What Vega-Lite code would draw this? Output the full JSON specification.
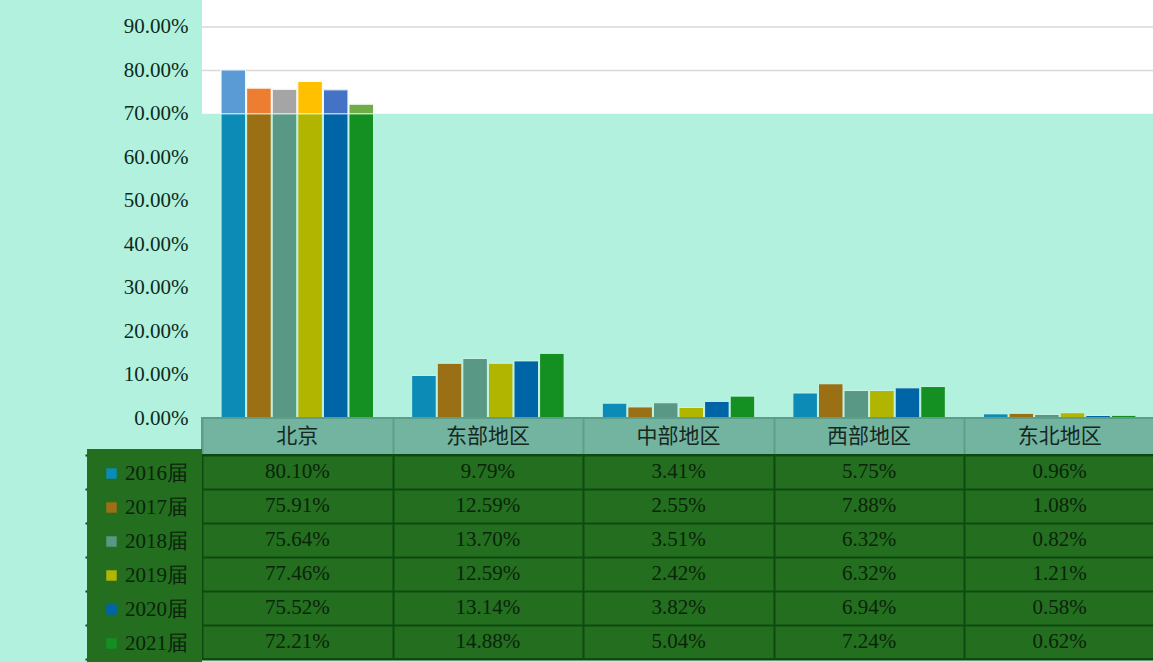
{
  "$schema": "https://vega.github.io/schema/vega-lite/v6.json",
  "background": "#b1f1dd",
  "padding": {"left": 83, "top": 0, "right": 0, "bottom": 0},
  "spacing": 0,
  "bounds": "flush",
  "config": {"view": {"stroke": null}, "font": "Liberation Serif"},
  "datasets": {
    "rows": [
      {"region": "北京", "year": "2016届", "value": 0.8010},
      {"region": "北京", "year": "2017届", "value": 0.7591},
      {"region": "北京", "year": "2018届", "value": 0.7564},
      {"region": "北京", "year": "2019届", "value": 0.7746},
      {"region": "北京", "year": "2020届", "value": 0.7552},
      {"region": "北京", "year": "2021届", "value": 0.7221},
      {"region": "东部地区", "year": "2016届", "value": 0.0979},
      {"region": "东部地区", "year": "2017届", "value": 0.1259},
      {"region": "东部地区", "year": "2018届", "value": 0.1370},
      {"region": "东部地区", "year": "2019届", "value": 0.1259},
      {"region": "东部地区", "year": "2020届", "value": 0.1314},
      {"region": "东部地区", "year": "2021届", "value": 0.1488},
      {"region": "中部地区", "year": "2016届", "value": 0.0341},
      {"region": "中部地区", "year": "2017届", "value": 0.0255},
      {"region": "中部地区", "year": "2018届", "value": 0.0351},
      {"region": "中部地区", "year": "2019届", "value": 0.0242},
      {"region": "中部地区", "year": "2020届", "value": 0.0382},
      {"region": "中部地区", "year": "2021届", "value": 0.0504},
      {"region": "西部地区", "year": "2016届", "value": 0.0575},
      {"region": "西部地区", "year": "2017届", "value": 0.0788},
      {"region": "西部地区", "year": "2018届", "value": 0.0632},
      {"region": "西部地区", "year": "2019届", "value": 0.0632},
      {"region": "西部地区", "year": "2020届", "value": 0.0694},
      {"region": "西部地区", "year": "2021届", "value": 0.0724},
      {"region": "东北地区", "year": "2016届", "value": 0.0096},
      {"region": "东北地区", "year": "2017届", "value": 0.0108},
      {"region": "东北地区", "year": "2018届", "value": 0.0082},
      {"region": "东北地区", "year": "2019届", "value": 0.0121},
      {"region": "东北地区", "year": "2020届", "value": 0.0058},
      {"region": "东北地区", "year": "2021届", "value": 0.0062}
    ],
    "one": [{}]
  },
  "data": {"name": "rows"},
  "vconcat": [
    {
      "width": 953,
      "height": 418,
      "view": {"fill": "#b1f1dd", "stroke": null},
      "layer": [
        {
          "data": {"name": "one"},
          "mark": {"type": "rect", "fill": "#ffffff"},
          "encoding": {
            "y": {"datum": 0.7, "type": "quantitative", "scale": {"domain": [0, 0.962], "nice": false, "zero": true}, "axis": {"values": [0, 0.1, 0.2, 0.3, 0.4, 0.5, 0.6, 0.7, 0.8, 0.9], "format": ".2%", "labelFont": "Liberation Serif", "labelFontSize": 21, "labelColor": "#0d2a1c", "labelPadding": 14, "ticks": false, "domain": false, "gridColor": "#8ccab5", "gridWidth": 1.5, "title": null}},
            "y2": {"datum": 0.962}
          }
        },
        {
          "data": {"name": "one"},
          "mark": {"type": "rule", "color": "#d9d9d9", "strokeWidth": 1.5},
          "encoding": {"y": {"datum": 0.8, "type": "quantitative"}}
        },
        {
          "data": {"name": "one"},
          "mark": {"type": "rule", "color": "#d9d9d9", "strokeWidth": 1.5},
          "encoding": {"y": {"datum": 0.9, "type": "quantitative"}}
        },
        {
          "mark": {"type": "bar", "stroke": "#c6f5e6", "strokeWidth": 1},
          "encoding": {
            "x": {"field": "region", "type": "nominal", "sort": ["北京", "东部地区", "中部地区", "西部地区", "东北地区"], "axis": null, "scale": {"paddingInner": 0.2, "paddingOuter": 0.1}},
            "xOffset": {"field": "year", "type": "nominal", "scale": {"paddingInner": 0.04}},
            "y": {"field": "value", "type": "quantitative"},
            "color": {"field": "year", "type": "nominal", "scale": {"range": ["#0b8bb5", "#9b6f14", "#589884", "#b2b500", "#0065a6", "#148f22"]},
              "legend": {"orient": "none", "legendX": -115, "legendY": 449, "padding": 14, "fillColor": "#236e1f", "zindex": -1, "title": null, "symbolType": "square", "symbolSize": 110, "symbolStrokeWidth": 0, "labelFont": "Liberation Serif", "labelFontSize": 21, "labelColor": "#0a240a", "rowPadding": 12, "labelOffset": 3}}
          }
        },
        {
          "transform": [{"filter": "datum.value > 0.7"}],
          "mark": {"type": "bar", "stroke": "#ffffff", "strokeWidth": 1},
          "encoding": {
            "x": {"field": "region", "type": "nominal", "sort": ["北京", "东部地区", "中部地区", "西部地区", "东北地区"]},
            "xOffset": {"field": "year", "type": "nominal"},
            "y": {"field": "value", "type": "quantitative"},
            "y2": {"datum": 0.7},
            "fill": {"field": "year", "type": "nominal", "scale": {"range": ["#5b9bd5", "#ed7d31", "#a5a5a5", "#ffc000", "#4472c4", "#70ad47"]}, "legend": null}
          }
        }
      ]
    },
    {
      "width": 953,
      "height": 37,
      "view": {"fill": "#72b4a0", "stroke": "#5c9e89", "strokeWidth": 2},
      "mark": {"type": "text", "font": "Noto Sans CJK SC", "fontSize": 21, "color": "#15281f"},
      "encoding": {
        "x": {"field": "region", "type": "nominal", "sort": ["北京", "东部地区", "中部地区", "西部地区", "东北地区"], "scale": {"paddingInner": 0, "paddingOuter": 0}, "axis": {"orient": "top", "labels": false, "ticks": false, "domain": false, "grid": true, "tickBand": "extent", "gridColor": "#5c9e89", "gridWidth": 2, "title": null}},
        "text": {"field": "region"}
      },
      "transform": [{"aggregate": [], "groupby": ["region"]}]
    },
    {
      "width": 953,
      "height": 204,
      "view": {"fill": "#236e1f", "stroke": "#0e4a10", "strokeWidth": 2},
      "mark": {"type": "text", "font": "Liberation Serif", "fontSize": 21, "color": "#0a240a"},
      "encoding": {
        "x": {"field": "region", "type": "nominal", "sort": ["北京", "东部地区", "中部地区", "西部地区", "东北地区"], "scale": {"paddingInner": 0, "paddingOuter": 0}, "axis": {"orient": "top", "labels": false, "ticks": false, "domain": false, "grid": true, "tickBand": "extent", "gridColor": "#0e4a10", "gridWidth": 2, "title": null}},
        "y": {"field": "year", "type": "nominal", "scale": {"paddingInner": 0, "paddingOuter": 0}, "axis": {"labels": false, "ticks": true, "tickSize": 117, "tickBand": "extent", "tickColor": "#0e4a10", "tickWidth": 2, "domain": false, "grid": true, "gridColor": "#0e4a10", "gridWidth": 2, "title": null, "zindex": 1}},
        "text": {"field": "value", "type": "quantitative", "format": ".2%"}
      }
    }
  ]
}
